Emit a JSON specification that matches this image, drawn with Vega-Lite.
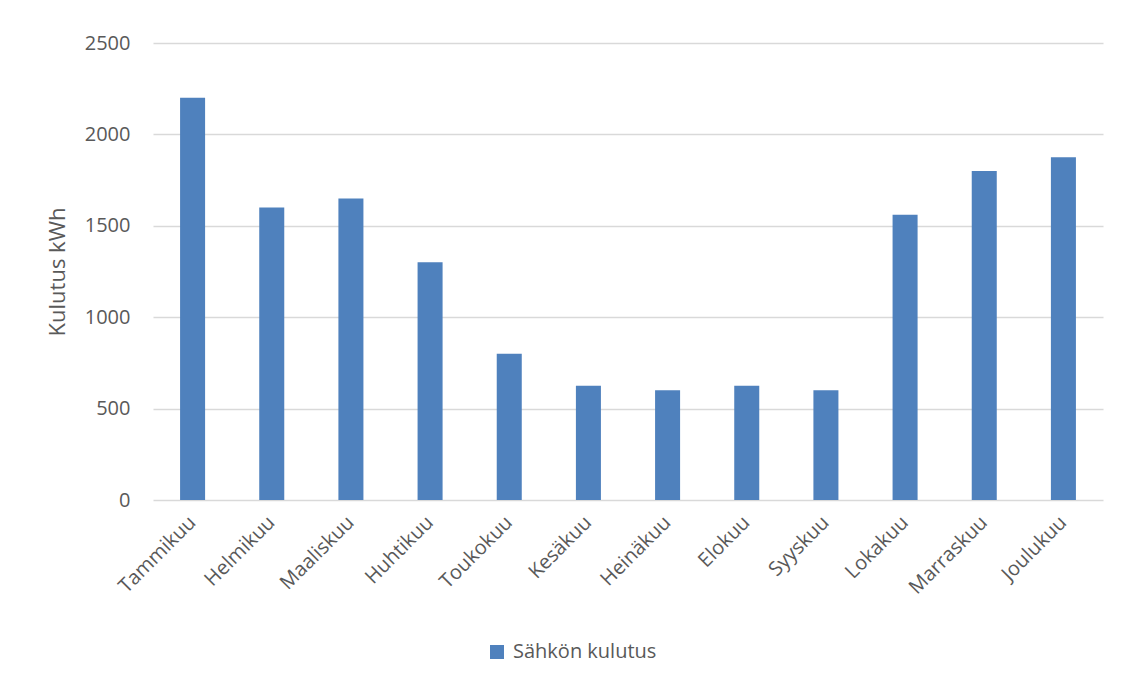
{
  "$schema": "https://vega.github.io/schema/vega-lite/v6.json",
  "autosize": "none",
  "width": 950,
  "height": 457,
  "padding": {"left": 153, "top": 43, "right": 18, "bottom": 182},
  "background": "white",
  "config": {
    "font": "Open Sans",
    "view": {"stroke": null}
  },
  "data": {
    "values": [
      {"kuukausi": "Tammikuu", "kulutus": 2200, "sarja": "Sähkön kulutus"},
      {"kuukausi": "Helmikuu", "kulutus": 1600, "sarja": "Sähkön kulutus"},
      {"kuukausi": "Maaliskuu", "kulutus": 1650, "sarja": "Sähkön kulutus"},
      {"kuukausi": "Huhtikuu", "kulutus": 1300, "sarja": "Sähkön kulutus"},
      {"kuukausi": "Toukokuu", "kulutus": 800, "sarja": "Sähkön kulutus"},
      {"kuukausi": "Kesäkuu", "kulutus": 625, "sarja": "Sähkön kulutus"},
      {"kuukausi": "Heinäkuu", "kulutus": 600, "sarja": "Sähkön kulutus"},
      {"kuukausi": "Elokuu", "kulutus": 625, "sarja": "Sähkön kulutus"},
      {"kuukausi": "Syyskuu", "kulutus": 600, "sarja": "Sähkön kulutus"},
      {"kuukausi": "Lokakuu", "kulutus": 1560, "sarja": "Sähkön kulutus"},
      {"kuukausi": "Marraskuu", "kulutus": 1800, "sarja": "Sähkön kulutus"},
      {"kuukausi": "Joulukuu", "kulutus": 1875, "sarja": "Sähkön kulutus"}
    ]
  },
  "mark": {"type": "bar"},
  "encoding": {
    "x": {
      "field": "kuukausi",
      "type": "nominal",
      "sort": null,
      "scale": {"paddingInner": 0.684, "paddingOuter": 0.342},
      "axis": {
        "title": null,
        "domain": false,
        "ticks": false,
        "labelAngle": -45,
        "labelAlign": "right",
        "labelBaseline": "middle",
        "labelPadding": 19,
        "labelFontSize": 20,
        "labelColor": "#595959"
      }
    },
    "y": {
      "field": "kulutus",
      "type": "quantitative",
      "scale": {"domain": [0, 2500]},
      "axis": {
        "title": "Kulutus kWh",
        "titleFontSize": 22,
        "titleFontWeight": "normal",
        "titleColor": "#595959",
        "titlePadding": 15,
        "values": [0, 500, 1000, 1500, 2000, 2500],
        "format": "d",
        "domain": false,
        "ticks": false,
        "labelPadding": 23,
        "labelFontSize": 20,
        "labelColor": "#595959",
        "gridColor": "#d9d9d9",
        "gridWidth": 1.5
      }
    },
    "color": {
      "field": "sarja",
      "type": "nominal",
      "scale": {"range": ["#4f81bd"]},
      "legend": {
        "title": null,
        "orient": "none",
        "legendX": 334,
        "legendY": 599,
        "symbolType": "square",
        "symbolSize": 196,
        "symbolStrokeWidth": 0,
        "labelFontSize": 20,
        "labelColor": "#595959",
        "labelOffset": 6
      }
    }
  }
}
